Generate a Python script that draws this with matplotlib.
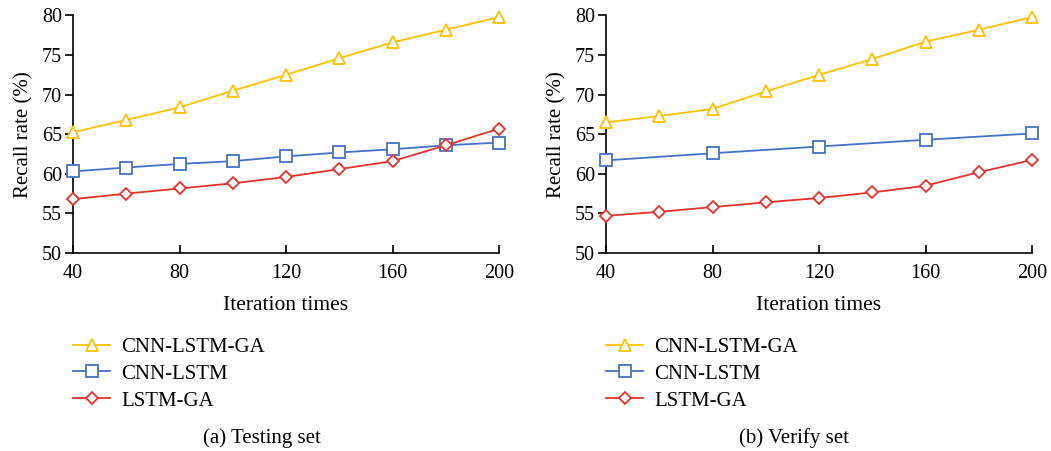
import numpy as np
import matplotlib
matplotlib.use("Agg")
import matplotlib.pyplot as plt

plt.rcParams['font.family'] = ['Liberation Serif', 'DejaVu Serif']

# data
iters = [40, 60, 80, 100, 120, 140, 160, 180, 200]
iters_b = [40, 80, 120, 160, 200]

test_cnn_lstm_ga = [65.25, 66.8, 68.4, 70.5, 72.5, 74.6, 76.6, 78.2, 79.8]
test_cnn_lstm = [60.3, 60.8, 61.25, 61.6, 62.2, 62.7, 63.1, 63.6, 63.95]
test_lstm_ga = [56.8, 57.5, 58.15, 58.8, 59.6, 60.6, 61.6, 63.6, 65.7]

verify_cnn_lstm_ga = [66.5, 67.3, 68.2, 70.4, 72.5, 74.5, 76.7, 78.2, 79.8]
verify_cnn_lstm = [61.7, 62.6, 63.45, 64.3, 65.1]
verify_lstm_ga = [54.7, 55.2, 55.8, 56.4, 56.95, 57.65, 58.5, 60.2, 61.75]

labels = ['CNN-LSTM-GA', 'CNN-LSTM', 'LSTM-GA']
captions = ['(a) Testing set', '(b) Verify set']
colors = ['#FFC000', '#4472C4', '#E8322A']
markers = ['^', 's', 'D']
msizes = [8.5, 8.5, 6.5]

W, H = 1051, 451
fig = plt.figure(figsize=(W / 100, H / 100), dpi=100)

panels = [
    (73, [(iters, test_cnn_lstm_ga), (iters, test_cnn_lstm), (iters, test_lstm_ga)], 73, 262),
    (606, [(iters, verify_cnn_lstm_ga), (iters_b, verify_cnn_lstm), (iters, verify_lstm_ga)], 606, 794),
]

for i, (x0, series, lx, cx) in enumerate(panels):
    ax = fig.add_axes([x0 / W, 1 - 253 / H, 426 / W, (253 - 15.5) / H])
    for (xs, ys), lab, c, m, ms in zip(series, labels, colors, markers, msizes):
        ax.plot(xs, ys, color=c, lw=1.3, marker=m, ms=ms, mfc='white',
                mec=c, mew=1.3, label=lab, clip_on=False, zorder=3)
    ax.set_xlim(40, 200)
    ax.set_ylim(50, 80)
    ax.set_xticks([40, 80, 120, 160, 200])
    ax.set_yticks([50, 55, 60, 65, 70, 75, 80])
    for s in ['top', 'right']:
        ax.spines[s].set_visible(False)
    for s in ['left', 'bottom']:
        ax.spines[s].set_linewidth(1.2)
    ax.tick_params(axis='y', direction='out', length=6, width=1.2, labelsize=14.5, pad=2)
    ax.tick_params(axis='x', direction='in', length=6, width=1.2, labelsize=14.5, pad=8)
    ax.set_xlabel('Iteration times', fontsize=15.5, labelpad=9)
    ax.set_ylabel('Recall rate (%)', fontsize=15, labelpad=6)

    h, l = ax.get_legend_handles_labels()
    fig.legend(h, l, loc='upper left', bbox_to_anchor=((lx - 8) / W, 1 - 329 / H),
               frameon=False, fontsize=15, handlelength=1.75, handletextpad=0.55,
               labelspacing=0.35, borderaxespad=0)
    fig.text(cx / W, 1 - 438 / H, captions[i], ha='center', va='center', fontsize=15)

fig.savefig('out.png', dpi=100)
